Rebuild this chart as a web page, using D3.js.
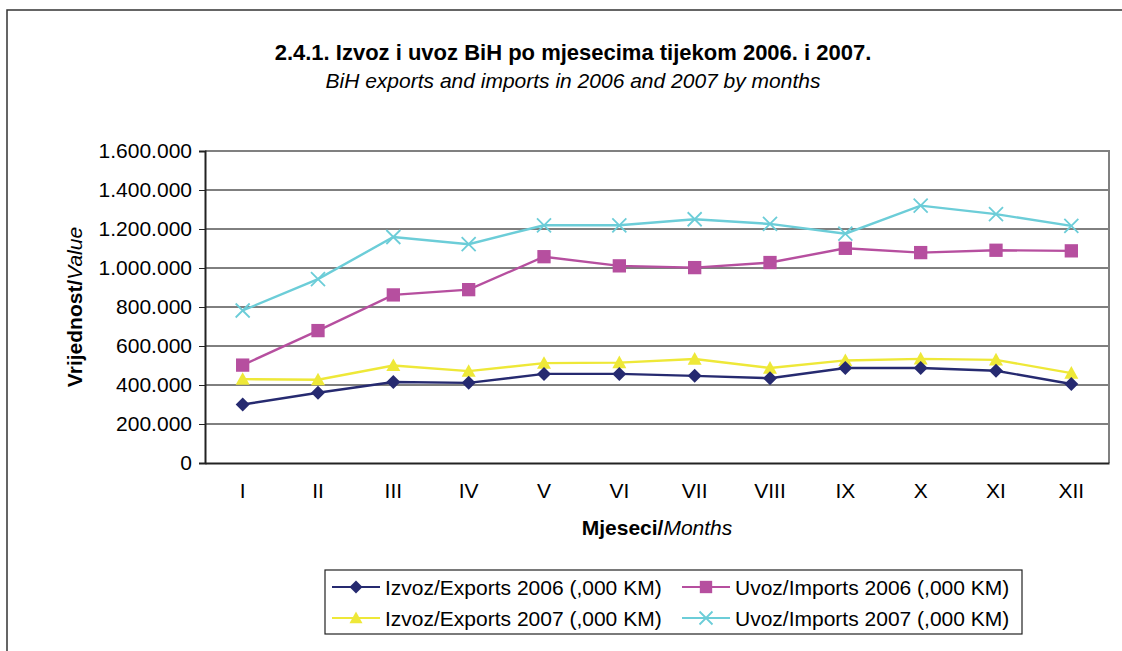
<!DOCTYPE html>
<html>
<head>
<meta charset="utf-8">
<script src="https://cdn.jsdelivr.net/npm/d3@7"></script>
<style>
  body { margin: 0; background: #fff; }
  text { font-family: Arial, "Liberation Sans", sans-serif; fill: #000; }
</style>
</head>
<body>
<div id="chart"></div>
<script>
const months = ["I", "II", "III", "IV", "V", "VI", "VII", "VIII", "IX", "X", "XI", "XII"];
const exports2006 = [300000, 360000, 415000, 411000, 457000, 457000, 447000, 435000, 487000, 487000, 473000, 405000];
const imports2006 = [502000, 679000, 862000, 889000, 1058000, 1011000, 1002000, 1028000, 1101000, 1079000, 1091000, 1088000];
const exports2007 = [430000, 427000, 500000, 471000, 512000, 515000, 533000, 487000, 526000, 534000, 529000, 461000];
const imports2007 = [782000, 943000, 1159000, 1122000, 1219000, 1219000, 1250000, 1226000, 1176000, 1320000, 1276000, 1216000];
const yTicks = [0, 200000, 400000, 600000, 800000, 1000000, 1200000, 1400000, 1600000];

const series = [
    { name: "Izvoz/Exports 2006 (,000 KM)", values: exports2006, color: "#262a70", marker: "diamond" },
    { name: "Uvoz/Imports 2006 (,000 KM)", values: imports2006, color: "#b64f9f", marker: "square" },
    { name: "Izvoz/Exports 2007 (,000 KM)", values: exports2007, color: "#eee838", marker: "triangle" },
    { name: "Uvoz/Imports 2007 (,000 KM)", values: imports2007, color: "#6ccdd8", marker: "cross" }
];

const W = 1122, H = 651;
const margin = { top: 151, right: 13, bottom: 188, left: 205 };
const width = W - margin.left - margin.right;
const height = H - margin.top - margin.bottom;
const FS = "21px";

const svg = d3.select("#chart").append("svg")
    .attr("width", W)
    .attr("height", H);

// outer chart frame
svg.append("rect")
    .attr("x", 7).attr("y", 10)
    .attr("width", W).attr("height", H)
    .attr("fill", "none")
    .attr("stroke", "#333")
    .attr("stroke-width", 1.5);

svg.append("text")
    .attr("x", 573).attr("y", 60)
    .attr("text-anchor", "middle")
    .attr("font-size", "22px")
    .attr("font-weight", "bold")
    .text("2.4.1. Izvoz i uvoz BiH po mjesecima tijekom 2006. i 2007.");

svg.append("text")
    .attr("x", 573).attr("y", 88)
    .attr("text-anchor", "middle")
    .attr("font-size", FS)
    .attr("font-style", "italic")
    .text("BiH exports and imports in 2006 and 2007 by months");

const x = d3.scaleBand().domain(months).range([0, width]);
const y = d3.scaleLinear().domain([0, 1600000]).range([height, 0]);

const g = svg.append("g").attr("transform", `translate(${margin.left},${margin.top})`);

// gridlines
g.append("g")
    .selectAll("line")
    .data(yTicks.filter(d => d > 0 && d < 1600000))
    .enter().append("line")
    .attr("x1", 0).attr("x2", width)
    .attr("y1", d => y(d)).attr("y2", d => y(d))
    .attr("stroke", "#000")
    .attr("stroke-width", 1);

// plot border (top/right grey)
g.append("path")
    .attr("d", `M0,0H${width}V${height}`)
    .attr("fill", "none")
    .attr("stroke", "#808080")
    .attr("stroke-width", 2);

const fmt = d => d === 0 ? "0" : d3.format(",")(d).replace(/,/g, ".");

const yAxis = g.append("g")
    .call(d3.axisLeft(y).tickValues(yTicks).tickSize(6).tickPadding(7).tickFormat(fmt));
yAxis.select(".domain").attr("stroke", "#222").attr("stroke-width", 2);
yAxis.selectAll(".tick line").attr("stroke", "#222");
yAxis.selectAll("text").attr("font-size", FS).attr("font-family", "Arial, 'Liberation Sans', sans-serif");

const xAxis = g.append("g")
    .attr("transform", `translate(0,${height})`)
    .call(d3.axisBottom(x).tickSize(0).tickPadding(20));
xAxis.select(".domain").attr("stroke", "#222").attr("stroke-width", 2);
xAxis.selectAll("text").attr("font-size", FS).attr("font-family", "Arial, 'Liberation Sans', sans-serif");

// axis titles
const xt = svg.append("text")
    .attr("x", margin.left + width / 2).attr("y", 535)
    .attr("text-anchor", "middle")
    .attr("font-size", FS);
xt.append("tspan").attr("font-weight", "bold").text("Mjeseci/");
xt.append("tspan").attr("font-style", "italic").text("Months");

const yt = svg.append("text")
    .attr("transform", `translate(82,${margin.top + height / 2}) rotate(-90)`)
    .attr("text-anchor", "middle")
    .attr("font-size", FS);
yt.append("tspan").attr("font-weight", "bold").text("Vrijednost/");
yt.append("tspan").attr("font-style", "italic").text("Value");

function drawMarker(sel, type, color, s) {
    if (type === "diamond") {
        sel.append("path").attr("d", `M0,${-s}L${s},0L0,${s}L${-s},0Z`).attr("fill", color);
    } else if (type === "square") {
        sel.append("rect").attr("x", -s * 0.95).attr("y", -s * 0.95)
            .attr("width", s * 1.9).attr("height", s * 1.9).attr("fill", color);
    } else if (type === "triangle") {
        sel.append("path").attr("d", `M0,${-s}L${s},${s * 0.8}L${-s},${s * 0.8}Z`).attr("fill", color);
    } else {
        sel.append("path").attr("d", `M${-s},${-s}L${s},${s}M${-s},${s}L${s},${-s}`)
            .attr("stroke", color).attr("stroke-width", 1.8).attr("fill", "none");
    }
}

const line = d3.line()
    .x((d, i) => x(months[i]) + x.bandwidth() / 2)
    .y(d => y(d));

// draw in order: imports2007, imports2006, exports2007, exports2006 stacking like the reference
const drawOrder = [series[3], series[1], series[2], series[0]];
drawOrder.forEach(s => {
    g.append("path")
        .datum(s.values)
        .attr("d", line)
        .attr("fill", "none")
        .attr("stroke", s.color)
        .attr("stroke-width", 2.4);
});
drawOrder.forEach(s => {
    g.append("g").selectAll("g")
        .data(s.values)
        .enter().append("g")
        .attr("transform", (d, i) => `translate(${x(months[i]) + x.bandwidth() / 2},${y(d)})`)
        .each(function () { drawMarker(d3.select(this), s.marker, s.color, 7); });
});

// legend
const lg = svg.append("g").attr("transform", "translate(325,570)");
lg.append("rect")
    .attr("width", 697).attr("height", 64)
    .attr("fill", "#fff").attr("stroke", "#222").attr("stroke-width", 1.2);

const lpos = [[7, 17], [357, 17], [7, 48], [357, 48]];
series.forEach((s, i) => {
    const it = lg.append("g").attr("transform", `translate(${lpos[i][0]},${lpos[i][1]})`);
    it.append("line").attr("x1", 0).attr("x2", 48)
        .attr("stroke", s.color).attr("stroke-width", 2.2);
    const m = it.append("g").attr("transform", "translate(24,0)");
    drawMarker(m, s.marker, s.color, 6.5);
    it.append("text").attr("x", 53).attr("y", 7.5)
        .attr("font-size", FS)
        .text(s.name);
});
</script>
</body>
</html>
